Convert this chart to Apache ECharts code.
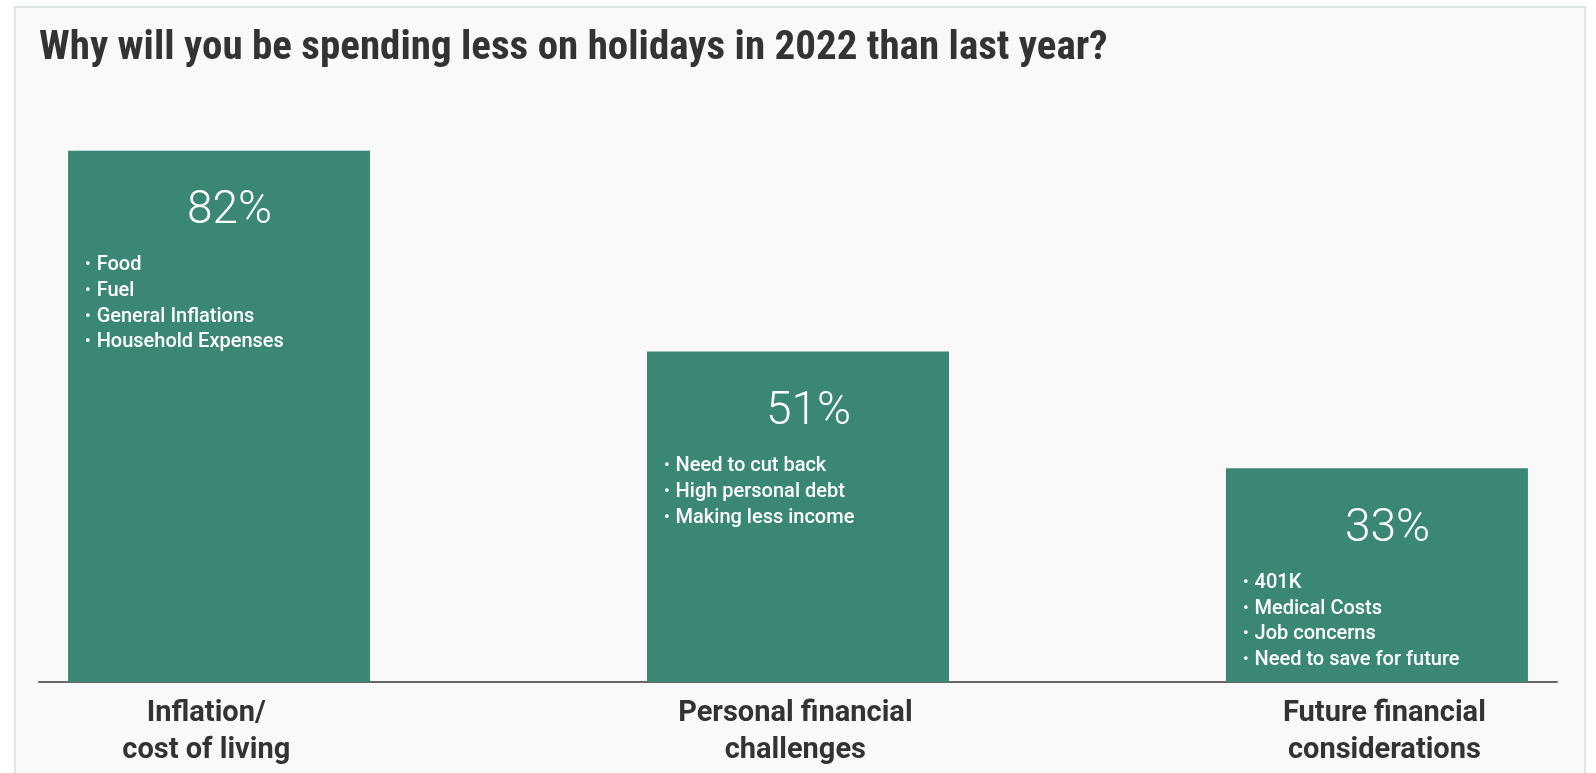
<!DOCTYPE html>
<html>
<head>
<meta charset="utf-8">
<title>Holiday spending survey</title>
<script src="https://cdn.jsdelivr.net/npm/echarts@6/dist/echarts.min.js"></script>
<style>
  html, body { margin: 0; padding: 0; background: #ffffff; }
  #panel {
    position: absolute; left: 14px; top: 6px; width: 1572px; height: 780px;
    background: #f9f9f9; border: 2px solid #dde6e2; box-sizing: border-box;
  }
  #chart { position: absolute; left: 0; top: 0; width: 1596px; height: 773px; }
</style>
</head>
<body>
<div id="panel"></div>
<div id="chart"></div>
<script>
// Survey question shown as the chart heading
const titleText = 'Why will you be spending less on holidays in 2022 than last year?';

// Reasons for spending less (axis labels)
const categories = ['Inflation/\ncost of living', 'Personal financial\nchallenges', 'Future financial\nconsiderations'];

// Share of respondents citing each reason, in percent
const shares = [82, 51, 33];

// Detail items listed inside each bar
const details = [
  ['Food', 'Fuel', 'General Inflations', 'Household Expenses'],
  ['Need to cut back', 'High personal debt', 'Making less income'],
  ['401K', 'Medical Costs', 'Job concerns', 'Need to save for future']
];

const chart = echarts.init(document.getElementById('chart'), null, { renderer: 'canvas' });

// Bars sit at category positions 0, 1, 2 on a numeric x axis so the
// baseline can extend past the outer bars.
const barData = shares.map((v, i) => [i, v]);

chart.setOption({
  backgroundColor: 'transparent',
  animation: false,
  title: {
    text: titleText,
    left: 34,
    top: 23,
    textStyle: {
      fontFamily: "'Roboto Condensed', 'Liberation Sans Narrow', Roboto, sans-serif",
      fontSize: 41,
      fontWeight: 'bold',
      color: '#333333'
    }
  },
  grid: { left: 39, right: 39, bottom: 91, height: 648 },
  xAxis: [{
    // baseline carrying the bars
    type: 'value',
    min: -0.311,
    max: 2.311,
    splitLine: { show: false },
    axisTick: { show: false },
    axisLabel: { show: false },
    axisLine: { show: true, onZero: false, lineStyle: { color: '#666666', width: 2 } }
  }, {
    // category captions, spread slightly wider than the bars
    type: 'value',
    position: 'bottom',
    min: -0.284,
    max: 2.293,
    splitLine: { show: false },
    axisTick: { show: false },
    axisLine: { show: false },
    axisLabel: {
      customValues: [0, 1, 2],
      formatter: v => categories[Math.round(v)] || '',
      fontFamily: 'Roboto, sans-serif',
      fontSize: 29,
      fontWeight: 'bold',
      color: '#333333',
      lineHeight: 37,
      margin: 13,
      align: 'center'
    }
  }],
  yAxis: {
    type: 'value',
    min: 0,
    max: 100,
    show: false
  },
  series: [{
    type: 'bar',
    xAxisIndex: 0,
    data: barData,
    barWidth: 302,
    itemStyle: { color: '#3b8775' },
    label: {
      show: true,
      position: 'insideTop',
      distance: 20,
      width: 270,
      formatter: p => {
        const i = p.dataIndex;
        const lines = ['{pct|' + shares[i] + '%}'];
        details[i].forEach(t => lines.push('{dot|\u2022}{item|' + t + '}'));
        return lines.join('\n');
      },
      rich: {
        pct: {
          fontFamily: 'Roboto, sans-serif',
          fontSize: 46,
          fontWeight: 300,
          color: '#ffffff',
          lineHeight: 82,
          padding: [0, 0, 0, 21],
          align: 'center'
        },
        dot: {
          fontFamily: 'Roboto, sans-serif',
          fontSize: 16,
          fontWeight: 500,
          color: '#ffffff',
          lineHeight: 25.6,
          padding: [0, 6, 0, 1],
          align: 'left'
        },
        item: {
          fontFamily: 'Roboto, sans-serif',
          fontSize: 20,
          fontWeight: 500,
          color: '#ffffff',
          lineHeight: 25.6,
          align: 'left'
        }
      }
    }
  }]
});
</script>
</body>
</html>
